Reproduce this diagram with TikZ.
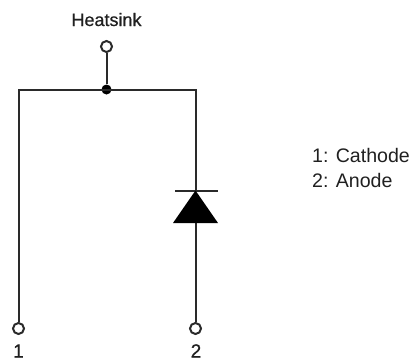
\documentclass[tikz,border=0pt]{standalone}
\usepackage{fontspec}
\setmainfont{Liberation Sans}
\newfontfamily\heavyfont[FakeBold=0.6]{Liberation Sans}
\definecolor{wirecol}{HTML}{2A2A2A}
\definecolor{textcol}{HTML}{202020}
\tikzset{
  wire/.style={line width=2pt,draw=wirecol},
  terminal/.style={circle,draw=wirecol,fill=white,line width=2pt,minimum size=11pt,inner sep=0pt},
  junction/.style={circle,fill=black,minimum size=10pt,inner sep=0pt},
  label/.style={inner sep=0pt,text=textcol,anchor=base},
  legend/.style={inner sep=0pt,text=textcol,anchor=base west,font=\fontsize{19.6}{22}\selectfont}
}
\begin{document}
\begin{tikzpicture}[x=1pt,y=-1pt]
\useasboundingbox (0,0) rectangle (411,360);
\coordinate (cl) at (18.5,89.5);
\coordinate (cr) at (195.5,89.5);
\coordinate (cathode) at (195.5,190.5);
\coordinate (anode) at (195.5,223);
\coordinate (barl) at (175,190.5);
\coordinate (barr) at (217.5,190.5);
\coordinate (basel) at (173,223);
\coordinate (baser) at (218,223);
\node[junction] (j) at (106.5,89.5) {};
\node[terminal] (th) at (106.5,46.5) {};
\node[terminal] (t1) at (18.5,328.5) {};
\node[terminal] (t2) at (195.5,328.5) {};
\draw[wire] (th) -- (j);
\draw[wire,line join=miter] (t1) -- (cl) -- (cr) -- (cathode);
\draw[wire] (anode) -- (t2);
\draw[wire] (barl) -- (barr);
\fill[black] (cathode) -- (baser) -- (basel) -- cycle;
\node[label,font=\heavyfont\fontsize{18}{20}\selectfont] (lh) at (106.5,26) {Heatsink};
\node[label,font=\heavyfont\fontsize{19}{22}\selectfont] (l1) at (18.5,357.5) {1};
\node[label,font=\heavyfont\fontsize{19}{22}\selectfont] (l2) at (196,357.5) {2};
\node[legend] (lc) at (312,162) {1: Cathode};
\node[legend] (la) at (312,187) {2: Anode};
\end{tikzpicture}
\end{document}
